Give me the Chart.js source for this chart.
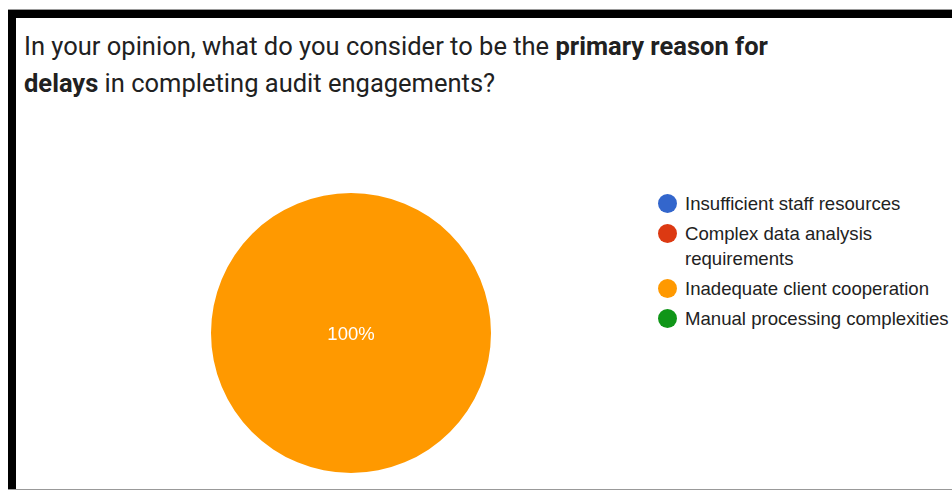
<!DOCTYPE html>
<html>
<head>
<meta charset="utf-8">
<script src="https://cdn.jsdelivr.net/npm/chart.js@4"></script>
<style>
  html, body { margin: 0; padding: 0; background: #fff; }
  body { width: 952px; height: 490px; position: relative; overflow: hidden; }
  #frame {
    position: absolute; left: 8px; top: 9px; width: 950px; height: 479px;
    border-top: 1px solid #999; border-bottom: 2px solid #999;
  }
  #frame::before {
    content: ""; position: absolute; left: 0; top: 0; right: 0; height: 8px; background: #000;
  }
  #frame::after {
    content: ""; position: absolute; left: 0; top: 0; bottom: 0; width: 8px; background: #000;
  }
  #title {
    position: absolute; left: 24px; top: 28px; margin: 0;
    font-family: Roboto, sans-serif; font-size: 25.5px; font-weight: 400;
    line-height: 37px; color: #212121; white-space: nowrap;
  }
  #title b { font-weight: 700; }
  #pie { position: absolute; left: 211px; top: 193px; }
  #legend {
    position: absolute; left: 658px; top: 191px; margin: 0; padding: 0; list-style: none;
    font-family: "Liberation Sans", Arial, sans-serif; font-size: 18.6px; color: #222;
  }
  #legend li { position: relative; padding-left: 27px; line-height: 25px; margin-bottom: 5px; white-space: nowrap; }
  #legend li span {
    position: absolute; left: 0; top: 3px; width: 19px; height: 19px; border-radius: 50%;
  }
</style>
</head>
<body>
<div id="frame"></div>
<p id="title">In your opinion, what do you consider to be the <b>primary reason for<br>delays</b> in completing audit engagements?</p>
<div id="pie"><canvas id="chart" width="280" height="280"></canvas></div>
<ul id="legend"></ul>
<script>
const reasons = [
  "Insufficient staff resources",
  ["Complex data analysis", "requirements"],
  "Inadequate client cooperation",
  "Manual processing complexities"
];
const shares = [0, 0, 100, 0];
const sliceColors = ["#3366cc", "#dc3912", "#ff9900", "#109618"];

// percentage text inside each slice
const sliceLabels = {
  id: "sliceLabels",
  afterDatasetsDraw(chart) {
    const ctx = chart.ctx;
    const data = chart.data.datasets[0].data;
    const total = data.reduce((a, b) => a + b, 0);
    chart.getDatasetMeta(0).data.forEach((arc, i) => {
      if (!data[i]) return;
      const pct = Math.round(data[i] / total * 100);
      const pos = pct === 100 ? { x: arc.x, y: arc.y } : arc.tooltipPosition();
      ctx.save();
      ctx.fillStyle = "#fff";
      ctx.font = "18.5px 'Liberation Sans', Arial, sans-serif";
      ctx.textAlign = "center";
      ctx.textBaseline = "middle";
      ctx.fillText(pct + "%", pos.x, pos.y + 2);
      ctx.restore();
    });
  }
};

const chart = new Chart(document.getElementById("chart"), {
  type: "pie",
  data: {
    labels: reasons,
    datasets: [{
      data: shares,
      backgroundColor: sliceColors,
      borderWidth: 0
    }]
  },
  options: {
    responsive: false,
    animation: false,
    layout: { padding: 0 },
    plugins: {
      legend: { display: false },
      tooltip: { enabled: false }
    }
  },
  plugins: [sliceLabels]
});

// legend built from the chart's own labels and colours
const legendEl = document.getElementById("legend");
chart.data.labels.forEach((label, i) => {
  const li = document.createElement("li");
  const text = Array.isArray(label) ? label.join("<br>") : label;
  li.innerHTML = `<span style="background:${chart.data.datasets[0].backgroundColor[i]}"></span>${text}`;
  legendEl.appendChild(li);
});
</script>
</body>
</html>
